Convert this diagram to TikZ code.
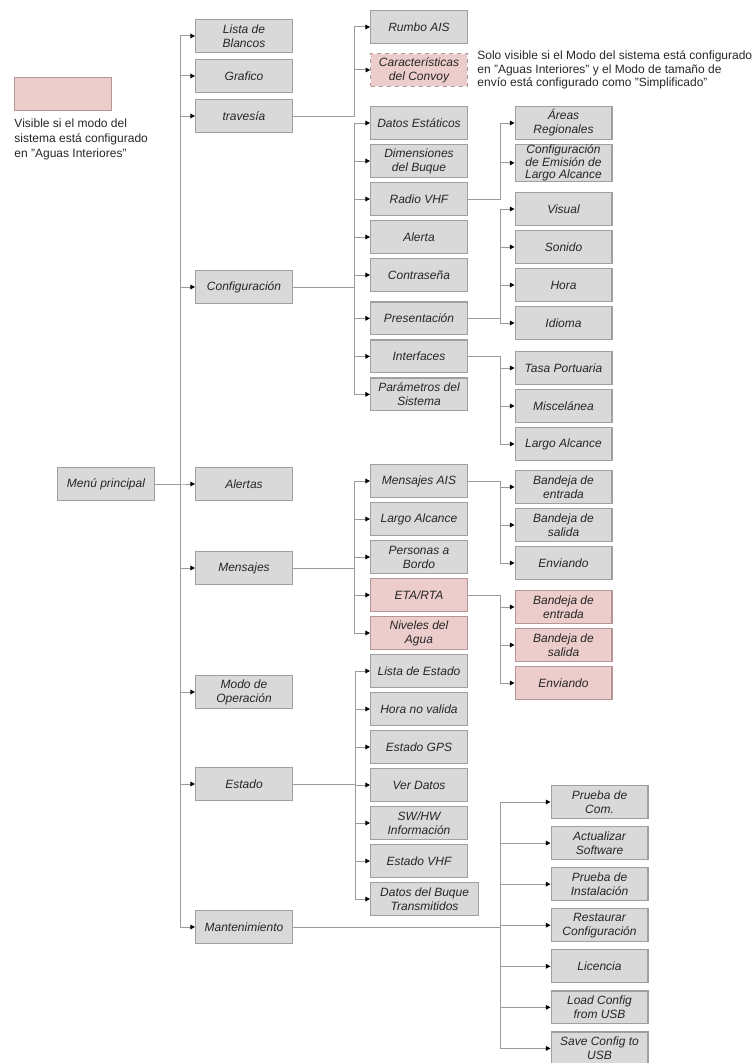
\documentclass[tikz,border=0pt]{standalone}
\usepackage{fontspec}
\setmainfont{Liberation Sans}
\usetikzlibrary{positioning,arrows.meta}

\definecolor{boxgray}{RGB}{217,217,217}
\definecolor{edgegray}{RGB}{160,160,160}
\definecolor{boxpink}{RGB}{236,205,203}
\definecolor{edgepink}{RGB}{180,150,150}
\definecolor{linegray}{RGB}{155,155,155}

\begin{document}
\begin{tikzpicture}[x=0.75pt, y=-0.75pt, node distance = 3pt,
	font=\fontsize{9}{10.5}\selectfont\itshape,
	block/.style = { rectangle, draw=edgegray, line width=0.9pt, fill=boxgray,
	minimum width=72.6pt, minimum height=24.6pt, inner sep=1pt,
	align=center, text=black!85 },
	inland/.style = { block, fill=boxpink, draw=edgepink },
	remark/.style = { align=left, inner sep=0pt, text=black!85, font=\upshape },
	arr/.style = { draw=linegray, line width=0.75pt,
	-{Triangle[length=3.5pt, width=3.5pt, color=black]} } ]

  \useasboundingbox (0,0) rectangle (753,1063);

  % legend
  \node [name=legend, inland, line width=0.6pt] at (63,94) {};
  \node [name=legendtext, remark, font=\fontsize{9}{11.2}\selectfont\upshape,
	below right=6pt and 0pt of legend.south west]
	{Visible si el modo del\\sistema está configurado\\en "Aguas Interiores"};

  % main menu and first level
  \node [name=menu, block] at (106,484) {Menú principal};
  \node [name=lista, block] at (244,36) {Lista de\\Blancos};
  \node [name=graf, block] at (244,76) {Grafico};
  \node [name=trav, block] at (244,116) {travesía};
  \node [name=conf, block] at (244,287) {Configuración};
  \node [name=alertas, block] at (244,484) {Alertas};
  \node [name=mens, block] at (244,568) {Mensajes};
  \node [name=modo, block] at (244,692) {Modo de\\Operación};
  \node [name=estado, block] at (244,784) {Estado};
  \node [name=mant, block] at (244,927) {Mantenimiento};

  % travesia
  \node [name=rumbo, block] at (419,27) {Rumbo AIS};
  \node [name=convoy, inland, dashed, line width=0.6pt] at (419,70)
	{Características\\del Convoy};
  \node [name=note, remark, font=\fontsize{9}{10}\selectfont\upshape,
	right=7pt of convoy]
	{Solo visible si el Modo del sistema está configurado\\en "Aguas Interiores" y el Modo de tamaño de\\envío está configurado como "Simplificado"};

  % configuracion
  \node [name=datos, block] at (419,123) {Datos Estáticos};
  \node [name=dimen, block, below=of datos] {Dimensiones\\del Buque};
  \node [name=radio, block, below=of dimen] {Radio VHF};
  \node [name=alerta, block, below=of radio] {Alerta};
  \node [name=contra, block, below=of alerta] {Contraseña};
  \node [name=pres, block, below=7pt of contra] {Presentación};
  \node [name=inter, block, below=of pres] {Interfaces};
  \node [name=param, block, below=of inter] {Parámetros del\\Sistema};

  \node [name=areas, block] at (563.5,123) {Áreas\\Regionales};
  \node [name=emision, block, below=of areas, inner ysep=0pt,
	font=\fontsize{9}{9.5}\selectfont\itshape]
	{Configuración\\de Emisión de\\Largo Alcance};

  \node [name=visual, block] at (563.5,209) {Visual};
  \node [name=sonido, block, below=of visual] {Sonido};
  \node [name=hora, block, below=of sonido] {Hora};
  \node [name=idioma, block, below=of hora] {Idioma};

  \node [name=tasa, block] at (563.5,368) {Tasa Portuaria};
  \node [name=misc, block, below=of tasa] {Miscelánea};
  \node [name=largo, block, below=of misc] {Largo Alcance};

  % mensajes
  \node [name=ais, block] at (419,481) {Mensajes AIS};
  \node [name=lalc, block, below=of ais] {Largo Alcance};
  \node [name=pers, block, below=of lalc] {Personas a\\Bordo};
  \node [name=eta, inland, below=of pers] {ETA/RTA};
  \node [name=nivel, inland, below=of eta] {Niveles del\\Agua};

  \node [name=entra, block] at (563.5,487) {Bandeja de\\entrada};
  \node [name=sale, block, below=of entra] {Bandeja de\\salida};
  \node [name=envia, block, below=of sale] {Enviando};

  \node [name=etaentra, inland] at (563.5,607) {Bandeja de\\entrada};
  \node [name=etasale, inland, below=of etaentra] {Bandeja de\\salida};
  \node [name=etaenvia, inland, below=of etasale] {Enviando};

  % estado
  \node [name=lestado, block] at (419,671) {Lista de Estado};
  \node [name=horanv, block, below=of lestado] {Hora no valida};
  \node [name=gps, block, below=of horanv] {Estado GPS};
  \node [name=ver, block, below=of gps] {Ver Datos};
  \node [name=swhw, block, below=of ver] {SW/HW\\Información};
  \node [name=evhf, block, below=of swhw] {Estado VHF};
  \node [name=buque, block, minimum width=81pt,
	below right=3pt and 0pt of evhf.south west] {Datos del Buque\\Transmitidos};

  % mantenimiento
  \node [name=pcom, block] at (599.5,802) {Prueba de\\Com.};
  \node [name=actual, block, below=5.3pt of pcom] {Actualizar\\Software};
  \node [name=instal, block, below=5.3pt of actual] {Prueba de\\Instalación};
  \node [name=resta, block, below=5.3pt of instal] {Restaurar\\Configuración};
  \node [name=lic, block, below=5.3pt of resta] {Licencia};
  \node [name=load, block, below=5.3pt of lic] {Load Config\\from USB};
  \node [name=save, block, below=5.3pt of load] {Save Config to\\USB};

  % connectors
  \foreach \c in {lista,graf,trav,conf,alertas,mens,modo,estado,mant}
	\draw [arr] (menu.east) -| ([xshift=-11pt]\c.west) -- (\c.west);
  \foreach \c in {rumbo,convoy}
	\draw [arr] (trav.east) -| ([xshift=-12pt]\c.west) -- (\c.west);
  \foreach \c in {datos,dimen,radio,alerta,contra,pres,inter,param}
	\draw [arr] (conf.east) -| ([xshift=-12pt]\c.west) -- (\c.west);
  \foreach \c in {areas,emision}
	\draw [arr] (radio.east) -| ([xshift=-10.5pt]\c.west) -- (\c.west);
  \foreach \c in {visual,sonido,hora,idioma}
	\draw [arr] (pres.east) -| ([xshift=-10.5pt]\c.west) -- (\c.west);
  \foreach \c in {tasa,misc,largo}
	\draw [arr] (inter.east) -| ([xshift=-10.5pt]\c.west) -- (\c.west);
  \foreach \c in {ais,lalc,pers,eta,nivel}
	\draw [arr] (mens.east) -| ([xshift=-12pt]\c.west) -- (\c.west);
  \foreach \c in {entra,sale,envia}
	\draw [arr] (ais.east) -| ([xshift=-10.5pt]\c.west) -- (\c.west);
  \foreach \c in {etaentra,etasale,etaenvia}
	\draw [arr] (eta.east) -| ([xshift=-10.5pt]\c.west) -- (\c.west);
  \foreach \c in {lestado,horanv,gps,ver,swhw,evhf,buque}
	\draw [arr] (estado.east) -| ([xshift=-11pt]\c.west) -- (\c.west);
  \foreach \c in {pcom,actual,instal,resta,lic,load,save}
	\draw [arr] (mant.east) -| ([xshift=-37.5pt]\c.west) -- (\c.west);
\end{tikzpicture}
\end{document}
